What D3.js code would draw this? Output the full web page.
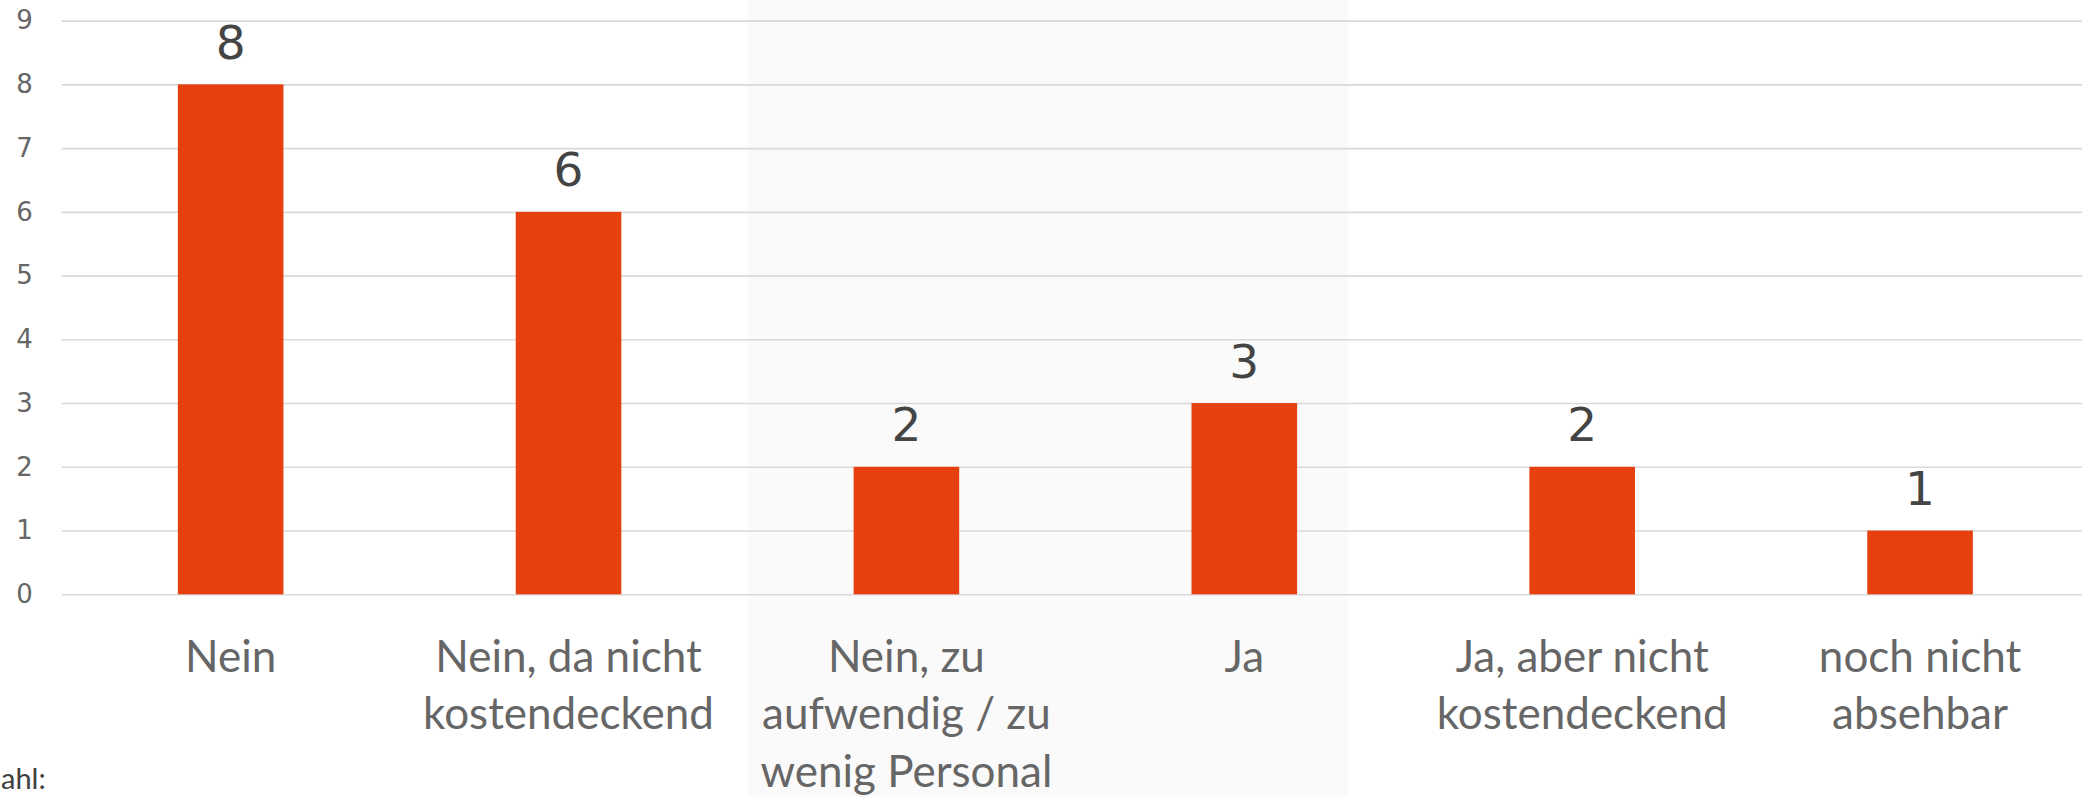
<!DOCTYPE html>
<html>
<head>
<meta charset="utf-8">
<script src="https://cdn.jsdelivr.net/npm/d3@7"></script>
<style>
  html, body { margin: 0; padding: 0; background: #ffffff; }
  svg { display: block; }
</style>
</head>
<body>
<svg id="chart" width="2082" height="797"></svg>
<script>
// ---- data ----
const categories = [
  "Nein",
  "Nein, da nicht\nkostendeckend",
  "Nein, zu\naufwendig / zu\nwenig Personal",
  "Ja",
  "Ja, aber nicht\nkostendeckend",
  "noch nicht\nabsehbar"
];
const values = [8, 6, 2, 3, 2, 1];
const yTickValues = [0, 1, 2, 3, 4, 5, 6, 7, 8, 9];
const yDomain = [0, 9];
const sideLabel = "ahl:";

// ---- layout ----
const W = 2082, H = 797;
const plotLeft = 61.7, plotRight = 2089;
const plotTop = 20.6, plotBottom = 594.3;

const svg = d3.select("#chart");

// background highlight panel (slide element)
svg.append("rect")
  .attr("x", 748).attr("y", 0)
  .attr("width", 600).attr("height", H)
  .attr("fill", "#fafafa");

const x = d3.scaleBand()
  .domain(categories)
  .range([plotLeft, plotRight])
  .paddingInner(0.6875)
  .paddingOuter(0.34375);

const y = d3.scaleLinear()
  .domain(yDomain)
  .range([plotBottom, plotTop]);

// gridlines
const grid = svg.append("g")
  .attr("transform", `translate(${plotLeft},0)`)
  .call(d3.axisLeft(y).tickValues(yTickValues).tickSize(-(W - plotLeft)).tickFormat(""));
grid.select(".domain").remove();
grid.selectAll(".tick line").attr("stroke", "#d9d9d9").attr("stroke-width", 1.6);

// y axis labels
const yAxis = svg.append("g")
  .attr("transform", `translate(${plotLeft},0)`)
  .call(d3.axisLeft(y).tickValues(yTickValues).tickSize(0).tickPadding(29).tickFormat(d3.format("d")));
yAxis.select(".domain").remove();
yAxis.selectAll("text")
  .attr("font-family", "'DejaVu Sans', sans-serif")
  .attr("font-size", 26)
  .attr("fill", "#666666");

// bars
svg.append("g").selectAll("rect")
  .data(values)
  .join("rect")
  .attr("x", (d, i) => x(categories[i]))
  .attr("width", x.bandwidth())
  .attr("y", d => y(d))
  .attr("height", d => y(0) - y(d))
  .attr("fill", "#e5400d");

// data labels
svg.append("g").selectAll("text")
  .data(values)
  .join("text")
  .attr("x", (d, i) => x(categories[i]) + x.bandwidth() / 2)
  .attr("y", d => y(d) - 25.5)
  .attr("text-anchor", "middle")
  .attr("font-family", "'DejaVu Sans', sans-serif")
  .attr("font-size", 47)
  .attr("fill", "#444444")
  .text(d => d);

// category labels
const xAxis = svg.append("g")
  .attr("transform", `translate(0,${plotBottom})`)
  .call(d3.axisBottom(x).tickSize(0).tickFormat(""));
xAxis.select(".domain").remove();
xAxis.selectAll(".tick").each(function(d) {
  const lines = d.split("\n");
  const t = d3.select(this).append("text")
    .attr("text-anchor", "middle")
    .attr("font-family", "Lato, 'Open Sans', sans-serif")
    .attr("font-size", 44)
    .attr("fill", "#666666")
    .attr("y", 77.5);
  lines.forEach((ln, k) => {
    t.append("tspan").attr("x", 0).attr("dy", k === 0 ? 0 : 57.5).text(ln);
  });
});

// side label (only its visible tail is shown in the original)
svg.append("text")
  .attr("x", 1).attr("y", 789)
  .attr("text-anchor", "start")
  .attr("font-family", "Lato, 'Open Sans', sans-serif")
  .attr("font-size", 29)
  .attr("fill", "#404040")
  .text(sideLabel);
</script>
</body>
</html>
